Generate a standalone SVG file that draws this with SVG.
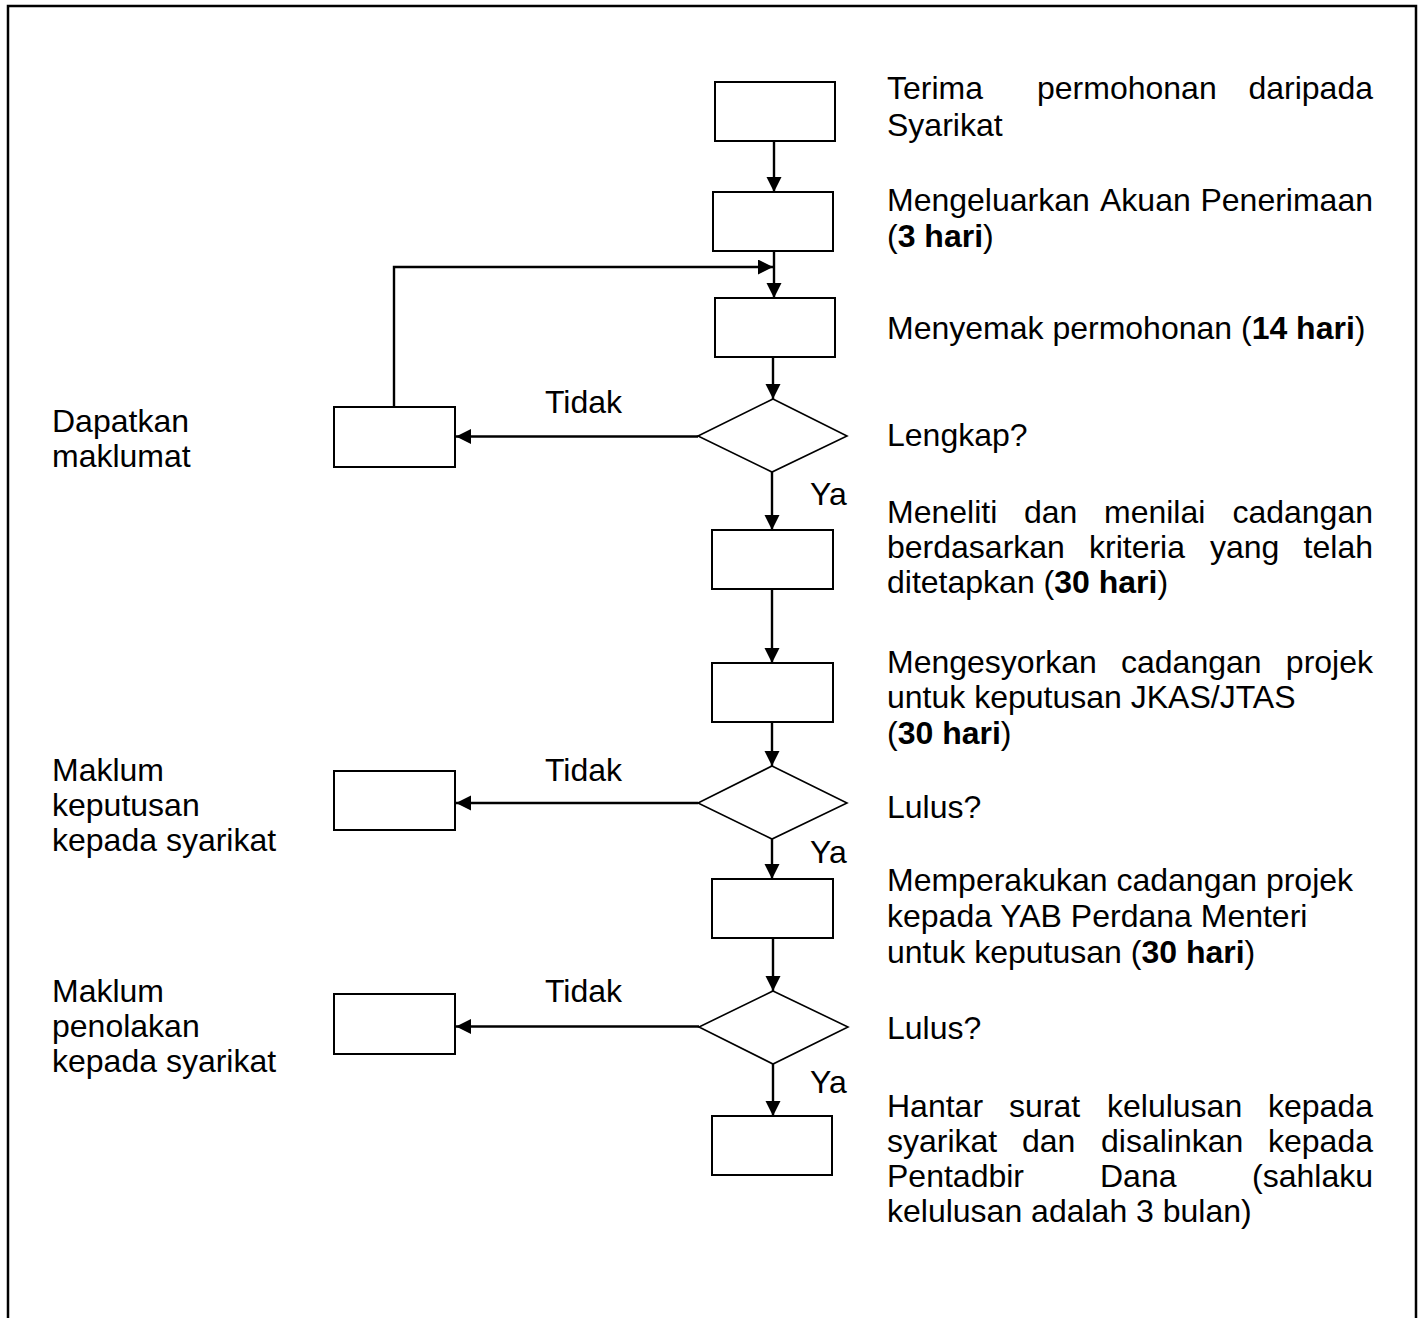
<svg xmlns="http://www.w3.org/2000/svg" width="1425" height="1318" viewBox="0 0 1425 1318">
<style>
text{font-family:"Liberation Sans",Arial,sans-serif;font-size:32px;fill:#000}
.b{font-weight:bold}
.e{text-anchor:end}
.box{fill:#fff;stroke:#000;stroke-width:2}
.dia{fill:#fff;stroke:#000;stroke-width:1.6}
.con{fill:none;stroke:#000;stroke-width:2.4}
</style>
<defs>
<marker id="ah" markerUnits="userSpaceOnUse" markerWidth="16" markerHeight="16" refX="15" refY="7.5" orient="auto">
<path d="M0,0 L15,7.5 L0,15 Z" fill="#000"/>
</marker>
</defs>
<path d="M8,1318 V6 H1416 V1318" fill="none" stroke="#000" stroke-width="2.5"/>
<g id="connectors">
<line class="con" x1="774" y1="141" x2="774" y2="192" marker-end="url(#ah)"/>
<line class="con" x1="774" y1="251" x2="774" y2="298" marker-end="url(#ah)"/>
<polyline class="con" points="394,407 394,267 773,267" marker-end="url(#ah)"/>
<line class="con" x1="773" y1="357" x2="773" y2="399" marker-end="url(#ah)"/>
<line class="con" x1="698" y1="436.5" x2="456" y2="436.5" marker-end="url(#ah)"/>
<line class="con" x1="772" y1="472" x2="772" y2="530" marker-end="url(#ah)"/>
<line class="con" x1="772" y1="589" x2="772" y2="663" marker-end="url(#ah)"/>
<line class="con" x1="772" y1="722" x2="772" y2="766" marker-end="url(#ah)"/>
<line class="con" x1="698" y1="803" x2="456" y2="803" marker-end="url(#ah)"/>
<line class="con" x1="772" y1="839" x2="772" y2="879" marker-end="url(#ah)"/>
<line class="con" x1="773" y1="938" x2="773" y2="991" marker-end="url(#ah)"/>
<line class="con" x1="699" y1="1026.5" x2="456" y2="1026.5" marker-end="url(#ah)"/>
<line class="con" x1="773" y1="1064" x2="773" y2="1116" marker-end="url(#ah)"/>
<text x="545" y="413">Tidak</text>
<text x="545" y="781">Tidak</text>
<text x="545" y="1002">Tidak</text>
<text x="810" y="505">Ya</text>
<text x="810" y="863">Ya</text>
<text x="810" y="1093">Ya</text>
</g>
<g id="n1">
<rect class="box" x="715" y="82" width="120" height="59"/>
<text y="99"><tspan x="887">Terima</tspan><tspan x="1037">permohonan</tspan></text>
<text class="e" x="1373" y="99">daripada</text>
<text x="887" y="136">Syarikat</text>
</g>
<g id="n2">
<rect class="box" x="713" y="192" width="120" height="59"/>
<text y="211"><tspan x="887">Mengeluarkan</tspan><tspan x="1100">Akuan</tspan></text>
<text class="e" x="1373" y="211">Penerimaan</text>
<text x="887" y="247">(<tspan class="b">3 hari</tspan>)</text>
</g>
<g id="n3">
<rect class="box" x="715" y="298" width="120" height="59"/>
<text x="887" y="339">Menyemak permohonan (<tspan class="b">14 hari</tspan>)</text>
</g>
<g id="d1">
<polygon class="dia" points="773,399 847,436 772,472 698,436"/>
<text x="887" y="446">Lengkap?</text>
</g>
<g id="l1">
<rect class="box" x="334" y="407" width="121" height="60"/>
<text x="52" y="432">Dapatkan</text>
<text x="52" y="467">maklumat</text>
</g>
<g id="n4">
<rect class="box" x="712" y="530" width="121" height="59"/>
<text y="523"><tspan x="887">Meneliti</tspan><tspan x="1024">dan</tspan><tspan x="1104">menilai</tspan></text>
<text class="e" x="1373" y="523">cadangan</text>
<text y="558"><tspan x="887">berdasarkan</tspan><tspan x="1089">kriteria</tspan><tspan x="1210">yang</tspan></text>
<text class="e" x="1373" y="558">telah</text>
<text x="887" y="593">ditetapkan (<tspan class="b">30 hari</tspan>)</text>
</g>
<g id="n5">
<rect class="box" x="712" y="663" width="121" height="59"/>
<text y="673"><tspan x="887">Mengesyorkan</tspan><tspan x="1121">cadangan</tspan></text>
<text class="e" x="1373" y="673">projek</text>
<text x="887" y="708">untuk keputusan JKAS/JTAS</text>
<text x="887" y="744">(<tspan class="b">30 hari</tspan>)</text>
</g>
<g id="d2">
<polygon class="dia" points="772,766 847,803 772,839 698,803"/>
<text x="887" y="818">Lulus?</text>
</g>
<g id="l2">
<rect class="box" x="334" y="771" width="121" height="59"/>
<text x="52" y="781">Maklum</text>
<text x="52" y="816">keputusan</text>
<text x="52" y="851">kepada syarikat</text>
</g>
<g id="n6">
<rect class="box" x="712" y="879" width="121" height="59"/>
<text x="887" y="891">Memperakukan cadangan projek</text>
<text x="887" y="927">kepada YAB Perdana Menteri</text>
<text x="887" y="963">untuk keputusan (<tspan class="b">30 hari</tspan>)</text>
</g>
<g id="d3">
<polygon class="dia" points="773,991 848,1027 773,1064 699,1027"/>
<text x="887" y="1039">Lulus?</text>
</g>
<g id="l3">
<rect class="box" x="334" y="994" width="121" height="60"/>
<text x="52" y="1002">Maklum</text>
<text x="52" y="1037">penolakan</text>
<text x="52" y="1072">kepada syarikat</text>
</g>
<g id="n7">
<rect class="box" x="712" y="1116" width="120" height="59"/>
<text y="1117"><tspan x="887">Hantar</tspan><tspan x="1009">surat</tspan><tspan x="1107">kelulusan</tspan></text>
<text class="e" x="1373" y="1117">kepada</text>
<text y="1152"><tspan x="887">syarikat</tspan><tspan x="1022">dan</tspan><tspan x="1101">disalinkan</tspan></text>
<text class="e" x="1373" y="1152">kepada</text>
<text y="1187"><tspan x="887">Pentadbir</tspan><tspan x="1100">Dana</tspan></text>
<text class="e" x="1373" y="1187">(sahlaku</text>
<text x="887" y="1222">kelulusan adalah 3 bulan)</text>
</g>
</svg>
